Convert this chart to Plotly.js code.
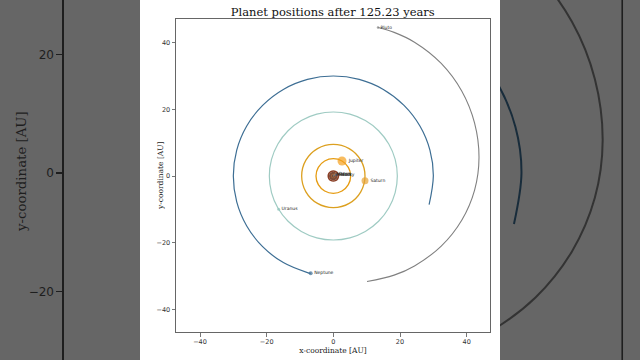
<!DOCTYPE html>
<html><head><meta charset="utf-8">
<script src="https://cdn.plot.ly/plotly-3.0.1.min.js"></script>
<style>html,body{margin:0;padding:0;background:#666666;}</style>
</head><body><div id="chart" style="width:640px;height:360px;"></div>
<script>
// ---- text ----
const titleText = 'Planet positions after 125.23 years';
const xTitle = 'x-coordinate [AU]';
const yTitle = 'y-coordinate [AU]';
const tickVals = [-40, -20, 0, 20, 40];
const bgTickVals = [-20, 0, 20];

// ---- orbit tracks (AU) ----
const mercuryOrbitX = [0.39,0.34,0.2,0,-0.2,-0.34,-0.39,-0.34,-0.2,0,0.2,0.34,0.39];
const mercuryOrbitY = [0,0.2,0.34,0.39,0.34,0.2,0,-0.2,-0.34,-0.39,-0.34,-0.2,0];
const venusOrbitX = [0.72,0.62,0.36,0,-0.36,-0.62,-0.72,-0.62,-0.36,0,0.36,0.62,0.72];
const venusOrbitY = [0,0.36,0.62,0.72,0.62,0.36,0,-0.36,-0.62,-0.72,-0.62,-0.36,0];
const earthOrbitX = [1,0.87,0.5,0,-0.5,-0.87,-1,-0.87,-0.5,0,0.5,0.87,1];
const earthOrbitY = [0,0.5,0.87,1,0.87,0.5,0,-0.5,-0.87,-1,-0.87,-0.5,0];
const marsOrbitX = [1.52,1.32,0.76,0,-0.76,-1.32,-1.52,-1.32,-0.76,0,0.76,1.32,1.52];
const marsOrbitY = [0,0.76,1.32,1.52,1.32,0.76,0,-0.76,-1.32,-1.52,-1.32,-0.76,0];
const jupiterOrbitX = [5.2,4.5,2.6,0,-2.6,-4.5,-5.2,-4.5,-2.6,0,2.6,4.5,5.2];
const jupiterOrbitY = [0,2.6,4.5,5.2,4.5,2.6,0,-2.6,-4.5,-5.2,-4.5,-2.6,0];
const saturnOrbitX = [9.5,8.23,4.75,0,-4.75,-8.23,-9.5,-8.23,-4.75,0,4.75,8.23,9.5];
const saturnOrbitY = [0,4.75,8.23,9.5,8.23,4.75,0,-4.75,-8.23,-9.5,-8.23,-4.75,0];
const uranusOrbitX = [19.2,18.55,16.63,13.58,9.6,4.97,0,-4.97,-9.6,-13.58,-16.63,-18.55,-19.2,-18.55,-16.63,-13.58,-9.6,-4.97,0,4.97,9.6,13.58,16.63,18.55,19.2];
const uranusOrbitY = [0,4.97,9.6,13.58,16.63,18.55,19.2,18.55,16.63,13.58,9.6,4.97,0,-4.97,-9.6,-13.58,-16.63,-18.55,-19.2,-18.55,-16.63,-13.58,-9.6,-4.97,0];
const neptuneOrbitX = [28.73,30,28.98,25.98,21.21,15,7.76,0,-7.76,-15,-21.21,-25.98,-28.98,-30,-28.98,-25.98,-21.21,-15,-7.76,-6.8];
const neptuneOrbitY = [-8.62,0,7.76,15,21.21,25.98,28.98,30,28.98,25.98,21.21,15,7.76,0,-7.76,-15,-21.21,-25.98,-28.98,-29.22];
const plutoOrbitX = [10.1,18.24,24.35,32.37,38.52,42.38,43.7,42.38,38.52,32.37,24.35,18.24,13.4];
const plutoOrbitY = [-31.67,-29.74,-26.98,-21.02,-13.25,-4.21,5.5,15.85,25.5,33.78,40.14,43.09,44.55];

// ---- current positions ----
const planetNames = ['Mercury','Venus','Earth','Mars','Jupiter','Saturn','Uranus','Neptune','Pluto'];
const planetX = [0.2, 0.5, 0.9, 1.45, 2.6, 9.5, -16.4, -6.8, 13.4];
const planetY = [0.33, 0.5, 0.4, 0.45, 4.5, -1.4, -10.0, -29.2, 44.55];

// ---- styles ----
const planetColors = ['#7d7d7d','#c08040','#3f5f9a','#a0452a','#f5a01c','#e6a234','#8fc3bb','#3d6e94','#808080'];
const planetSizes = [2, 2, 2.5, 2.5, 9, 7, 3, 4, 2.5];

const orbits = [
  [mercuryOrbitX, mercuryOrbitY, '#6e4a3a', 2],
  [venusOrbitX, venusOrbitY, '#a0603a', 2],
  [earthOrbitX, earthOrbitY, '#7a4a38', 2],
  [marsOrbitX, marsOrbitY, '#8a3f26', 1.6],
  [jupiterOrbitX, jupiterOrbitY, '#e69c12', 1.3],
  [saturnOrbitX, saturnOrbitY, '#dca020', 1.3],
  [uranusOrbitX, uranusOrbitY, '#9fcbc3', 1.2],
  [neptuneOrbitX, neptuneOrbitY, '#3d6e94', 1.2],
  [plutoOrbitX, plutoOrbitY, '#808080', 1.1]
];

// ---- geometry of the centred chart and the enlarged dark copy behind it ----
const W = 640, H = 360, S = 640 / 360, PANEL0 = 140, PANEL1 = 500;
const L = 176, R = 490, T = 19, B = 332;
const xr = [-47.2, 47.0], yr = [-46.8, 47.1];
const pxToX = px => xr[0] + (px - L) / (R - L) * (xr[1] - xr[0]);
const pyToY = py => yr[1] - (py - T) / (B - T) * (yr[1] - yr[0]);
const bgYRange = [pyToY(180 + 180 / S), pyToY(180 - 180 / S)];
const bgLeftAxisPx = (L - PANEL0) * S;
const bgRightAxisPx = (R - PANEL0) * S;
const bgRightXRange = [pxToX(PANEL0 + PANEL1 / S), pxToX(PANEL0 + W / S)];

const traces = [];
orbits.forEach(o => traces.push({
  x: o[0], y: o[1], type: 'scatter', mode: 'lines',
  line: {color: o[2], width: o[3], shape: 'spline', smoothing: 1},
  hoverinfo: 'skip', showlegend: false, xaxis: 'x', yaxis: 'y'
}));
traces.push({
  x: planetX, y: planetY, text: planetNames, type: 'scatter', mode: 'markers+text',
  textposition: 'middle right', textfont: {family: 'DejaVu Sans', size: 4.5, color: '#222'},
  marker: {color: planetColors, size: planetSizes, line: {width: 0}},
  showlegend: false, xaxis: 'x', yaxis: 'y', cliponaxis: false
});
// enlarged dark copy (right side of the background)
[[neptuneOrbitX, neptuneOrbitY, '#182c3b'], [plutoOrbitX, plutoOrbitY, '#333333']].forEach(o => traces.push({
  x: o[0], y: o[1], type: 'scatter', mode: 'lines',
  line: {color: o[2], width: 2, shape: 'spline', smoothing: 1},
  hoverinfo: 'skip', showlegend: false, xaxis: 'x3', yaxis: 'y3'
}));
// dummy for left background axis
traces.push({x: [0], y: [0], type: 'scatter', mode: 'markers', marker: {opacity: 0},
  hoverinfo: 'skip', showlegend: false, xaxis: 'x2', yaxis: 'y2'});

const mainAxis = {
  showgrid: false, zeroline: false, showline: true, mirror: true,
  linecolor: '#666', linewidth: 1, ticks: 'outside', ticklen: 3.5, tickwidth: 0.8,
  tickcolor: '#555', tickvals: tickVals,
  tickfont: {family: 'DejaVu Sans', size: 6.5, color: '#333'}
};
const hidden = {visible: false, showgrid: false, zeroline: false};

const layout = {
  width: W, height: H, margin: {l: 0, r: 0, t: 0, b: 0},
  paper_bgcolor: '#666666', plot_bgcolor: 'rgba(0,0,0,0)',
  title: {text: titleText, font: {family: 'DejaVu Serif', size: 11.5, color: '#111'},
          x: 0.52, xanchor: 'center', y: 1 - 12 / H, yanchor: 'middle'},
  xaxis: Object.assign({}, mainAxis, {domain: [L / W, R / W], range: xr, anchor: 'y',
    title: {text: xTitle, font: {family: 'DejaVu Serif', size: 7.5, color: '#222'}, standoff: 2}}),
  yaxis: Object.assign({}, mainAxis, {domain: [1 - B / H, 1 - T / H], range: yr, anchor: 'x'}),
  xaxis2: Object.assign({}, hidden, {domain: [bgLeftAxisPx / W, PANEL0 / W], range: [0, 1], anchor: 'y2'}),
  yaxis2: {domain: [0, 1], range: bgYRange, anchor: 'x2', showgrid: false, zeroline: false,
    showline: true, linecolor: '#1e1e1e', linewidth: 1.6, ticks: 'outside', ticklen: 6,
    tickwidth: 1.4, tickcolor: '#1e1e1e', tickvals: bgTickVals,
    tickfont: {family: 'DejaVu Sans', size: 12, color: '#1e1e1e'}},
  xaxis3: Object.assign({}, hidden, {domain: [PANEL1 / W, 1], range: bgRightXRange, anchor: 'y3'}),
  yaxis3: Object.assign({}, hidden, {domain: [0, 1], range: bgYRange, anchor: 'x3'}),
  annotations: [
    {text: yTitle, xref: 'paper', yref: 'paper', x: 160 / W, y: 1 - 176 / H, textangle: -90,
     showarrow: false, xanchor: 'center', yanchor: 'middle',
     font: {family: 'DejaVu Serif', size: 7.5, color: '#222'}},
    {text: yTitle, xref: 'paper', yref: 'paper', x: 21 / W, y: 1 - 172 / H, textangle: -90,
     showarrow: false, xanchor: 'center', yanchor: 'middle',
     font: {family: 'DejaVu Serif', size: 13.3, color: '#1e1e1e'}}
  ],
  shapes: [
    {type: 'rect', xref: 'paper', yref: 'paper', x0: PANEL0 / W, x1: PANEL1 / W, y0: 0, y1: 1,
     fillcolor: '#ffffff', line: {width: 0}, layer: 'below'},
    {type: 'line', xref: 'paper', yref: 'paper', x0: bgRightAxisPx / W, x1: bgRightAxisPx / W, y0: 0, y1: 1,
     line: {color: '#1e1e1e', width: 1.6}, layer: 'below'}
  ]
};

Plotly.newPlot('chart', traces, layout, {staticPlot: true, displayModeBar: false});
</script></body></html>
